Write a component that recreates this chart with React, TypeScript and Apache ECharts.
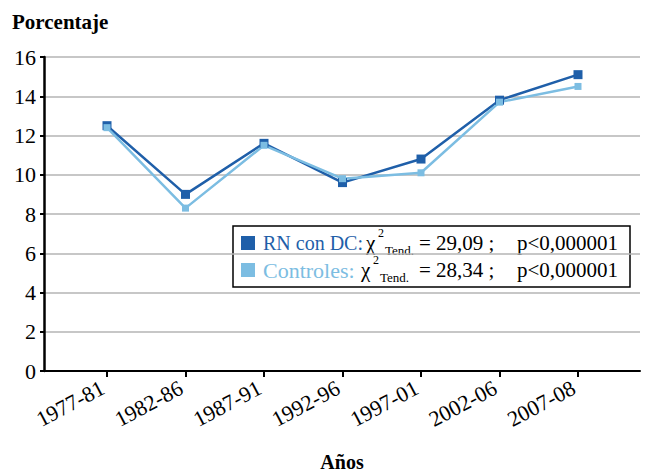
import React, { useEffect, useRef } from "react";
import * as echarts from "echarts";

const categories = ["1977-81", "1982-86", "1987-91", "1992-96", "1997-01", "2002-06", "2007-08"];
const rnConDC = [12.5, 9.0, 11.6, 9.6, 10.8, 13.8, 15.1];
const controles = [12.4, 8.3, 11.5, 9.8, 10.1, 13.7, 14.5];
const yTicks = { min: 0, max: 16, interval: 2 };

const DARK = "#1f5fa9";
const LIGHT = "#7cbde2";
const FONT = "Liberation Serif";

export default function App() {
  const ref = useRef<HTMLDivElement>(null);
  useEffect(() => {
    document.body.style.margin = "0";
    if (!ref.current) return;
    const chart = echarts.init(ref.current, null, { renderer: "svg" });
    const txt = (x: number, y: number, s: string, size: number, color = "#000", weight = "normal") => ({
      type: "text",
      x,
      y,
      style: { text: s, fontFamily: FONT, fontSize: size, fill: color, fontWeight: weight, textVerticalAlign: "middle" },
    });
    const legendRow = (y: number, label: string, labelSize: number, color: string, chiX: number, value: string) => [
      { type: "rect", shape: { x: 241, y: y - 7, width: 14, height: 14 }, style: { fill: color } },
      txt(263, y, label, labelSize, color),
      txt(chiX, y, "χ", 21),
      txt(chiX + 12, y - 10, "2", 12),
      txt(chiX + 19, y + 7, "Tend.", 13),
      txt(419, y, value + " ;", 21),
      txt(517, y, "p<0,000001", 21),
    ];
    chart.setOption({
      animation: false,
      textStyle: { fontFamily: FONT },
      grid: [
        { left: 44, right: 7, top: 57, bottom: 101 },
        { left: 107, right: 69, top: 57, bottom: 101 },
      ],
      xAxis: [
        {
          gridIndex: 0,
          type: "value",
          min: 0,
          max: 1,
          axisLine: { show: true, lineStyle: { color: "#000", width: 2 } },
          axisTick: { show: false },
          axisLabel: { show: false },
          splitLine: { show: false },
        },
        {
          gridIndex: 1,
          type: "category",
          data: categories,
          boundaryGap: false,
          axisLine: { show: false },
          axisTick: { show: true, length: 6, lineStyle: { color: "#000", width: 2 } },
          axisLabel: {
            rotate: 28,
            margin: 13,
            padding: [0, 5, 0, 0],
            fontFamily: FONT,
            fontSize: 22,
            color: "#000",
            interval: 0,
          },
          splitLine: { show: false },
        },
      ],
      yAxis: [
        {
          gridIndex: 0,
          type: "value",
          min: yTicks.min,
          max: yTicks.max,
          interval: yTicks.interval,
          axisLine: { show: true, lineStyle: { color: "#000", width: 2.5 } },
          axisTick: { show: true, inside: false, length: 4, lineStyle: { color: "#000", width: 2 } },
          axisLabel: { fontFamily: FONT, fontSize: 22, color: "#000", margin: 8 },
          splitLine: { show: true, lineStyle: { color: "#b5b5b5", width: 1.5 } },
        },
        {
          gridIndex: 1,
          type: "value",
          min: yTicks.min,
          max: yTicks.max,
          interval: yTicks.interval,
          show: false,
          splitLine: { show: false },
        },
      ],
      series: [
        {
          type: "line",
          xAxisIndex: 1,
          yAxisIndex: 1,
          data: rnConDC,
          symbol: "rect",
          symbolSize: 9,
          lineStyle: { color: DARK, width: 2.5 },
          itemStyle: { color: DARK },
        },
        {
          type: "line",
          xAxisIndex: 1,
          yAxisIndex: 1,
          data: controles,
          symbol: "rect",
          symbolSize: 7,
          lineStyle: { color: LIGHT, width: 2.5 },
          itemStyle: { color: LIGHT },
        },
      ],
      graphic: [
        txt(12, 22, "Porcentaje", 21, "#000", "bold"),
        { type: "text", x: 342, y: 462, style: { text: "Años", fontFamily: FONT, fontSize: 20, fontWeight: "bold", fill: "#000", textAlign: "center", textVerticalAlign: "middle" } },
        { type: "rect", shape: { x: 233, y: 226, width: 397, height: 61 }, style: { fill: "#fff", stroke: "#000", lineWidth: 1.5 } },
        ...legendRow(243, "RN con DC:", 20, DARK, 366, "= 29,09"),
        ...legendRow(270, "Controles:", 22, LIGHT, 361, "= 28,34"),
      ],
    });
    return () => chart.dispose();
  }, []);
  return <div ref={ref} style={{ width: 647, height: 472 }} />;
}
